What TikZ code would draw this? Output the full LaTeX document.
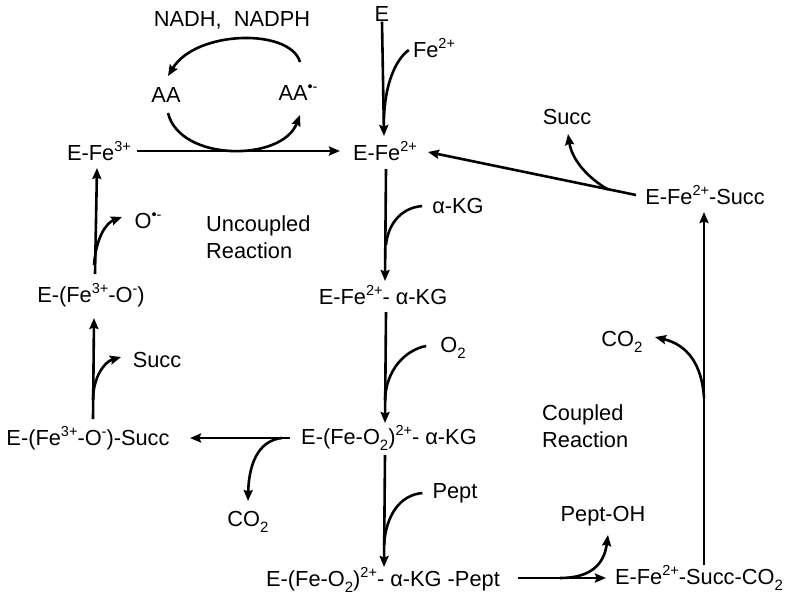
\documentclass[tikz,border=0pt]{standalone}
\usepackage{fontspec}
\setmainfont{Liberation Sans}
\usetikzlibrary{arrows.meta}
\newcommand{\up}[1]{\raisebox{0.42em}{\fontsize{14.5}{14.5}\selectfont #1}}
\newcommand{\dn}[1]{\raisebox{-0.28em}{\fontsize{15}{15}\selectfont #1}}
\begin{document}
\begin{tikzpicture}[x=1pt,y=-1pt,
  lab/.style={inner sep=0pt,font=\fontsize{21.8}{27}\selectfont},
  ln/.style={line width=2.6pt},
  arr/.style={ln,-{Stealth[length=11pt,width=9pt,inset=1.5pt]}}]
\useasboundingbox (0,0) rectangle (792,600);
% nodes
\node[lab] (NAD) at (232,20) {NADH,\ \ NADPH};
\node[lab] (E) at (382,14) {E};
\node[lab] (Fe2) at (434,48) {Fe\up{2+}};
\node[lab] (AA) at (166,95) {AA};
\node[lab] (AAr) at (298,93) {AA\up{\textbullet-}};
\node[lab] (EFe3) at (99,151) {E-Fe\up{3+}};
\node[lab] (EFe2) at (385,151) {E-Fe\up{2+}};
\node[lab] (Succt) at (567,117) {Succ};
\node[lab] (ESucc) at (705,195) {E-Fe\up{2+}-Succ};
\node[lab] (aKG) at (458,206) {α-KG};
\node[lab] (Orad) at (148,221) {O\up{\textbullet-}};
\node[lab,align=left,anchor=west] (Unc) at (206,237) {Uncoupled\\Reaction};
\node[lab] (EFe2aKG) at (383,295) {E-Fe\up{2+}- α-KG};
\node[lab] (EO3) at (91,295) {E-(Fe\up{3+}-O\up{-})};
\node[lab] (O2) at (453,348) {O\dn{2}};
\node[lab] (CO2r) at (622,342) {CO\dn{2}};
\node[lab] (Succl) at (157,360) {Succ};
\node[lab,align=left,anchor=west] (Cpl) at (542,426) {Coupled\\Reaction};
\node[lab] (EFeO2) at (389,438) {E-(Fe-O\dn{2})\up{2+}- α-KG};
\node[lab] (ESucc3) at (88,438) {E-(Fe\up{3+}-O\up{-})-Succ};
\node[lab] (Pept) at (455,493) {Pept};
\node[lab] (PeptOH) at (603,516) {Pept-OH};
\node[lab] (CO2b) at (248,522) {CO\dn{2}};
\node[lab] (EPept) at (383,580) {E-(Fe-O\dn{2})\up{2+}- α-KG -Pept};
\node[lab] (ESC) at (699,578) {E-Fe\up{2+}-Succ-CO\dn{2}};
% junction coordinates
\coordinate (j1) at (384,118);
\coordinate (j2) at (386,245);
\coordinate (j3) at (385,400);
\coordinate (j4) at (384,545);
\coordinate (j5) at (560,578);
\coordinate (j6) at (704,398);
\coordinate (j7) at (608,189.5);
\coordinate (j8) at (282,438);
\coordinate (j9) at (94,265);
\coordinate (j10) at (93,400);
\coordinate (aaA) at (168,113);
\coordinate (aaB) at (300,115);
\coordinate (aaC) at (300,62);
\coordinate (aaD) at (168,76);
% main arrows
\draw[arr] (E.south) -- (384,136);
\draw[ln] (Fe2.west) ++(-4,2) .. controls (395,60) and (385,85) .. (j1);
\draw[arr] (EFe3.east) ++(6,0) -- (340,151);
\draw[arr] (aaA) .. controls (180,162) and (282,162) .. (aaB);
\draw[arr] (aaC) .. controls (290,28) and (196,30) .. (aaD);
\draw[arr] (386,169) -- (385,281);
\draw[ln] (aKG.west) ++(-10,0) .. controls (400,208) and (388,225) .. (j2);
\draw[arr] (386,312) -- (385,423);
\draw[ln] (O2.west) ++(-14,-2) .. controls (405,350) and (386,370) .. (j3);
\draw[arr] (385,455) -- (384,567);
\draw[ln] (Pept.west) ++(-10,0) .. controls (400,495) and (386,515) .. (j4);
\draw[arr] (518,578) -- (606,578);
\draw[arr] (j5) .. controls (590,578) and (604,565) .. (608,535);
\draw[arr] (704,565) -- (704,212);
\draw[arr] (j6) .. controls (702,365) and (688,345) .. (655,337);
\draw[arr] (636,195) -- (428,152);
\draw[arr] (j7) .. controls (588,178) and (572,160) .. (568,134);
\draw[arr] (290,438) -- (190,438);
\draw[arr] (j8) .. controls (262,440) and (249,458) .. (248,501);
\draw[arr] (93,419) -- (94,318);
\draw[arr] (j10) .. controls (93,378) and (104,362) .. (121,357);
\draw[arr] (95,274) -- (97,168);
\draw[arr] (j9) .. controls (96,238) and (106,223) .. (122,217);
\end{tikzpicture}
\end{document}
